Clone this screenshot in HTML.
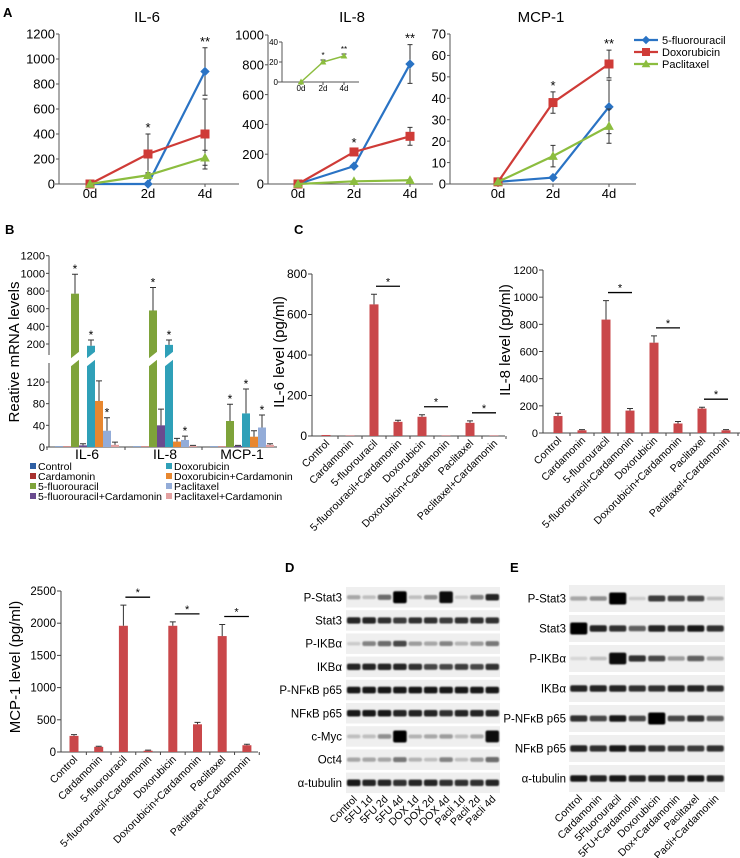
<!DOCTYPE html>
<html><head><meta charset="utf-8">
<style>
html,body{margin:0;padding:0;background:#fff;}
svg{display:block;font-family:"Liberation Sans",Arial,sans-serif;}
</style></head>
<body>
<svg id="fig" width="740" height="858" viewBox="0 0 740 858" xmlns="http://www.w3.org/2000/svg">
<defs><filter id="blur" x="-20%" y="-50%" width="140%" height="200%"><feGaussianBlur stdDeviation="0.9"/></filter></defs>
</svg>
<script>
// ---------- Panel A data ----------
const aDays = ['0d','2d','4d'];
const il6Fu = [0,0,900], il6FuErr = [0,0,190];
const il6Dox = [0,240,400], il6DoxErr = [0,160,280];
const il6Pac = [0,70,210], il6PacErr = [0,20,60];
const il6Ticks = [0,200,400,600,800,1000,1200];
const il6Stars = ['', '*', '**'];
const il8Fu = [0,120,805], il8FuErr = [0,10,130];
const il8Dox = [0,215,320], il8DoxErr = [0,20,60];
const il8Pac = [0,18,25], il8PacErr = [0,3,4];
const il8Ticks = [0,200,400,600,800,1000];
const il8Stars = ['', '*', '**'];
const insetPac = [0,20,26], insetPacErr = [0,2,2];
const insetTicks = [0,20,40];
const mcpFu = [1,3,36], mcpFuErr = [0,0.5,12.5];
const mcpDox = [1,38,56], mcpDoxErr = [0,5,6.5];
const mcpPac = [1,13,27], mcpPacErr = [0,5,8];
const mcpTicks = [0,10,20,30,40,50,60,70];
const mcpStars = ['', '*', '**'];
const seriesNames = ['5-fluorouracil','Doxorubicin','Paclitaxel'];
// ---------- Panel B data ----------
const bGroups = ['IL-6','IL-8','MCP-1'];
const bTreat = ['Control','Cardamonin','5-fluorouracil','5-fluorouracil+Cardamonin','Doxorubicin','Doxorubicin+Cardamonin','Paclitaxel','Paclitaxel+Cardamonin'];
const bIL6 = [1,1,770,3,180,85,30,4];
const bIL6Err = [0,0,220,3,65,37,24,5];
const bIL8 = [1,1,580,40,190,10,13,2];
const bIL8Err = [0,0,260,30,55,6,7,1];
const bMCP = [1,1,48,2,62,19,36,4];
const bMCPErr = [0,0,31,1,45,11,23,2];
const bStarIdx = [2,4,6];
const bLowTicks = [0,40,80,120];
const bHighTicks = [200,400,600,800,1000,1200];
// ---------- Panel C data ----------
const cCats = ['Control','Cardamonin','5-fluorouracil','5-fluorouracil+Cardamonin','Doxorubicin','Doxorubicin+Cardamonin','Paclitaxel','Paclitaxel+Cardamonin'];
const cIL6 = [5,2,650,70,95,2,65,2];
const cIL6Err = [0,0,50,8,10,0,10,0];
const cIL6Ticks = [0,200,400,600,800];
const cIL8 = [125,20,835,165,665,70,180,20];
const cIL8Err = [20,5,140,15,50,15,10,5];
const cIL8Ticks = [0,200,400,600,800,1000,1200];
const cMCP = [250,80,1960,20,1960,430,1800,105];
const cMCPErr = [20,10,320,10,60,30,180,15];
const cMCPTicks = [0,500,1000,1500,2000,2500];
const cPairs = [2,4,6];
// ---------- Panel D/E data ----------
const dLanes = ['Control','5FU 1d','5FU 2d','5FU 4d','DOX 1d','DOX 2d','DOX 4d','Pacli 1d','Pacli 2d','Pacli 4d'];
const dRows = ['P-Stat3','Stat3','P-IKB\u03b1','IKB\u03b1','P-NF\u03baB p65','NF\u03baB p65','c-Myc','Oct4','\u03b1-tubulin'];
const dInt = [
 [0.3,0.2,0.55,1.0,0.2,0.4,0.95,0.15,0.45,0.85],
 [0.85,0.85,0.8,0.75,0.8,0.8,0.75,0.8,0.8,0.8],
 [0.15,0.45,0.55,0.7,0.35,0.3,0.45,0.25,0.35,0.5],
 [0.85,0.85,0.85,0.85,0.8,0.7,0.7,0.75,0.7,0.8],
 [0.9,0.9,0.9,0.9,0.9,0.9,0.9,0.9,0.9,0.9],
 [0.9,0.9,0.9,0.85,0.85,0.85,0.8,0.85,0.85,0.85],
 [0.2,0.2,0.4,1.0,0.25,0.3,0.35,0.2,0.3,0.95],
 [0.3,0.3,0.3,0.5,0.25,0.2,0.45,0.2,0.35,0.55],
 [0.9,0.85,0.85,0.8,0.85,0.85,0.8,0.8,0.8,0.85]];
const eLanes = ['Control','Cardamonin','5Fluorouracil','5FU+Cardamonin','Doxorubicin','Dox+Cardamonin','Paclitaxel','Pacli+Cardamonin'];
const eRows = ['P-Stat3','Stat3','P-IKB\u03b1','IKB\u03b1','P-NF\u03baB p65','NF\u03baB p65','\u03b1-tubulin'];
const eInt = [
 [0.3,0.4,1.0,0.15,0.75,0.7,0.7,0.2],
 [1.0,0.85,0.8,0.6,0.85,0.8,0.9,0.8],
 [0.1,0.2,0.95,0.8,0.7,0.35,0.6,0.3],
 [0.85,0.85,0.85,0.8,0.8,0.85,0.85,0.8],
 [0.8,0.7,0.9,0.7,1.0,0.7,0.8,0.6],
 [0.85,0.8,0.9,0.85,0.8,0.75,0.75,0.8],
 [0.9,0.85,0.9,0.85,0.85,0.85,0.9,0.85]];

const svg = document.getElementById('fig');
const NS = 'http://www.w3.org/2000/svg';
function el(tag, attrs, parent){
  const e = document.createElementNS(NS, tag);
  for (const k in attrs) e.setAttribute(k, attrs[k]);
  (parent||svg).appendChild(e);
  return e;
}
function nm(e, n){
  
  
  return e;
}
function txt(x,y,s,size,opts,parent){
  const a = Object.assign({x:x,y:y,'font-size':size,fill:'#000'}, opts||{});
  const t = el('text', a, parent);
  t.textContent = s;
  return t;
}
function grp(n){ const g = el('g', {}); nm(g, n); return g; }

[['A',3,17],['B',5,234],['C',294,234],['D',285,572],['E',510,572]].forEach(p=>{
  const t = txt(p[1],p[2],p[0],13,{'font-weight':'bold'});
  nm(t, 'panel-label-'+p[0].toLowerCase());
});

// ---------- Panel A ----------
const colors = ['#2a73c4','#cf3b37','#8cbd3f'];
function marker(g, kind, x, y, c, s){
  let m;
  if (kind===0) m = el('polygon',{points:`${x},${y-s} ${x+s},${y} ${x},${y+s} ${x-s},${y}`,fill:c,stroke:c},g);
  else if (kind===1) m = el('rect',{x:x-s,y:y-s,width:2*s,height:2*s,fill:c,stroke:c},g);
  else m = el('polygon',{points:`${x},${y-s} ${x+s},${y+s*0.8} ${x-s},${y+s*0.8}`,fill:c,stroke:c},g);
  nm(m, 'data-point');
}
function lineChart(cfg){
  const g = grp(cfg.name);
  const ys = v => cfg.y0 - (v - cfg.ticks[0])/(cfg.ticks[cfg.ticks.length-1]-cfg.ticks[0])*(cfg.y0-cfg.yTop);
  const ax = el('line',{x1:cfg.ax,y1:cfg.yTop,x2:cfg.ax,y2:cfg.y0,stroke:'#555','stroke-width':1},g); nm(ax,'y-axis');
  const xa = el('line',{x1:cfg.ax-4,y1:cfg.y0,x2:cfg.xEnd,y2:cfg.y0,stroke:'#555','stroke-width':1},g); nm(xa,'x-axis');
  cfg.ticks.forEach(t=>{
    const y = ys(t);
    el('line',{x1:cfg.ax-3,y1:y,x2:cfg.ax,y2:y,stroke:'#555'},g);
    nm(txt(cfg.ax-4,y+cfg.fs*0.36,String(t),cfg.fs,{'text-anchor':'end'},g),'y-tick-label');
  });
  cfg.xs.forEach((x,i)=>{
    el('line',{x1:x,y1:cfg.y0,x2:x,y2:cfg.y0+3,stroke:'#555'},g);
    nm(txt(x,cfg.y0+cfg.fs+1,aDays[i],cfg.fs,{'text-anchor':'middle'},g),'x-tick-label');
  });
  cfg.series.forEach((s,k)=>{
    const pts = s.v.map((v,i)=>[cfg.xs[i], ys(v)]);
    const pl = el('polyline',{points:pts.map(p=>p.join(',')).join(' '),fill:'none',stroke:s.c,'stroke-width':cfg.lw},g);
    nm(pl,'line-'+s.n);
    s.v.forEach((v,i)=>{
      if (s.e[i]>0){
        const x=cfg.xs[i], y1=ys(v+s.e[i]), y2=ys(Math.max(v-s.e[i],cfg.ticks[0]));
        const eb = el('path',{d:`M${x},${y1}V${y2}M${x-2.5},${y1}H${x+2.5}M${x-2.5},${y2}H${x+2.5}`,stroke:'#333','stroke-width':1,fill:'none'},g);
        nm(eb,'error-bar');
      }
      marker(g, s.m, cfg.xs[i], ys(v), s.c, cfg.ms);
    });
  });
  if (cfg.stars) cfg.stars.forEach((st,i)=>{
    if (!st) return;
    let top = Math.min(...cfg.series.map(s=>ys(s.v[i]+s.e[i])));
    nm(txt(cfg.xs[i],top-2,st,cfg.fs,{'text-anchor':'middle'},g),'significance-star');
  });
  if (cfg.title) nm(txt(cfg.tx,22,cfg.title,15,{'text-anchor':'middle'},g),'chart-title');
}
lineChart({name:'il6-line-chart',title:'IL-6',tx:147,ax:59,xEnd:239,y0:184,yTop:34,xs:[90,148,205],ticks:il6Ticks,fs:13,lw:2.2,ms:4,stars:il6Stars,
  series:[{n:'5fu',v:il6Fu,e:il6FuErr,c:colors[0],m:0},{n:'dox',v:il6Dox,e:il6DoxErr,c:colors[1],m:1},{n:'pac',v:il6Pac,e:il6PacErr,c:colors[2],m:2}]});
lineChart({name:'il8-line-chart',title:'IL-8',tx:352,ax:268,xEnd:433,y0:184,yTop:35,xs:[298,354,410],ticks:il8Ticks,fs:13,lw:2.2,ms:4,stars:il8Stars,
  series:[{n:'5fu',v:il8Fu,e:il8FuErr,c:colors[0],m:0},{n:'dox',v:il8Dox,e:il8DoxErr,c:colors[1],m:1},{n:'pac',v:il8Pac,e:il8PacErr,c:colors[2],m:2}]});
lineChart({name:'il8-inset-chart',ax:282,xEnd:359,y0:82,yTop:42,xs:[301,323,344],ticks:insetTicks,fs:8,lw:1.5,ms:2.5,stars:['','*','**'],
  series:[{n:'pac',v:insetPac,e:insetPacErr,c:colors[2],m:2}]});
lineChart({name:'mcp1-line-chart',title:'MCP-1',tx:541,ax:450,xEnd:636,y0:184,yTop:34,xs:[498,553,609],ticks:mcpTicks,fs:13,lw:2.2,ms:4,stars:mcpStars,
  series:[{n:'5fu',v:mcpFu,e:mcpFuErr,c:colors[0],m:0},{n:'dox',v:mcpDox,e:mcpDoxErr,c:colors[1],m:1},{n:'pac',v:mcpPac,e:mcpPacErr,c:colors[2],m:2}]});
{
  const g = grp('legend-a');
  seriesNames.forEach((s,i)=>{
    const y = 40+i*12;
    const l = el('line',{x1:634,y1:y,x2:658,y2:y,stroke:colors[i],'stroke-width':2.2},g); nm(l,'legend-line');
    marker(g,i,646,y,colors[i],3.5);
    nm(txt(662,y+4,s,11,{},g),'legend-entry');
  });
}

// ---------- Panel B ----------
const bColors = ['#2e5fa3','#a8312f','#7ea33a','#6a4b8f','#2fa0b8','#e8872f','#93acd8','#e3a0a0'];
{
  const g = grp('mrna-bar-chart');
  const AX=49, Y0=447, LOWS=0.5417, brkTop=355, brkBot=363;
  const yLow = v => Y0 - v*LOWS;
  const yHigh = v => 344 - (v-200)*0.0883;
  const yv = v => v<=140 ? yLow(v) : yHigh(v);
  nm(el('line',{x1:AX,y1:brkBot,x2:AX,y2:Y0,stroke:'#444'},g),'y-axis-lower');
  nm(el('line',{x1:AX,y1:yHigh(1200),x2:AX,y2:brkTop,stroke:'#444'},g),'y-axis-upper');
  nm(el('line',{x1:AX,y1:Y0,x2:277,y2:Y0,stroke:'#444'},g),'x-axis');
  bLowTicks.forEach(t=>{ const y=yLow(t); el('line',{x1:AX-3,y1:y,x2:AX,y2:y,stroke:'#444'},g); nm(txt(AX-4,y+4,String(t),11,{'text-anchor':'end'},g),'y-tick-label'); });
  bHighTicks.forEach(t=>{ const y=yHigh(t); el('line',{x1:AX-3,y1:y,x2:AX,y2:y,stroke:'#444'},g); nm(txt(AX-4,y+4,String(t),11,{'text-anchor':'end'},g),'y-tick-label'); });
  const yl = txt(0,0,'Reative mRNA levels',15,{'text-anchor':'middle',transform:'translate(19,352) rotate(-90)'},g); nm(yl,'y-axis-title');
  const data=[[bIL6,bIL6Err],[bIL8,bIL8Err],[bMCP,bMCPErr]];
  const starts=[55,133,210], BW=8;
  data.forEach((d,gi)=>{
    d[0].forEach((v,i)=>{
      const x = starts[gi]+i*BW, top=yv(v);
      const r = el('rect',{x:x,y:top,width:BW,height:Y0-top,fill:bColors[i]},g); nm(r,'bar-'+bGroups[gi].toLowerCase()+'-'+i);
      if (v>140){
        const w = el('polygon',{points:`${x-1},${brkTop+4} ${x+BW+1},${brkTop-4} ${x+BW+1},${brkBot-4} ${x-1},${brkBot+4}`,fill:'#fff'},g); nm(w,'axis-break');
      }
      if (d[1][i]>0){
        const ye = yv(v+d[1][i]);
        nm(el('path',{d:`M${x+BW/2},${top}V${ye}M${x+1},${ye}H${x+BW-1}`,stroke:'#333',fill:'none'},g),'error-bar');
        if (bStarIdx.includes(i)) nm(txt(x+BW/2,ye-1,'*',12,{'text-anchor':'middle'},g),'significance-star');
      }
    });
    el('line',{x1:starts[gi]-8,y1:Y0,x2:starts[gi]-8,y2:Y0+3,stroke:'#444'},g);
    nm(txt(starts[gi]+32,Y0+12,bGroups[gi],14,{'text-anchor':'middle'},g),'x-group-label');
  });
  bTreat.forEach((t,i)=>{
    const cx = i<4? 30:166, cy = 470+(i%4)*10;
    nm(el('rect',{x:cx,y:cy-7,width:6,height:6,fill:bColors[i]},g),'legend-swatch');
    nm(txt(cx+8,cy,t,10.5,{},g),'legend-entry');
  });
}

// ---------- Panel C bar charts ----------
function barChart(cfg){
  const g = grp(cfg.name);
  const top = cfg.ticks[cfg.ticks.length-1];
  const ys = v => cfg.y0 - v/top*(cfg.y0-cfg.yTop);
  nm(el('line',{x1:cfg.ax,y1:cfg.yTop,x2:cfg.ax,y2:cfg.y0,stroke:'#444'},g),'y-axis');
  nm(el('line',{x1:cfg.ax,y1:cfg.y0,x2:cfg.xEnd,y2:cfg.y0,stroke:'#444'},g),'x-axis');
  cfg.ticks.forEach(t=>{ const y=ys(t); el('line',{x1:cfg.ax-4,y1:y,x2:cfg.ax,y2:y,stroke:'#444'},g); nm(txt(cfg.ax-5,y+4,String(t),cfg.fs,{'text-anchor':'end'},g),'y-tick-label'); });
  nm(txt(0,0,cfg.ylabel,15,{'text-anchor':'middle',transform:`translate(${cfg.ylx},${cfg.yly}) rotate(-90)`},g),'y-axis-title');
  const cx = i => cfg.x0 + i*cfg.step;
  cfg.vals.forEach((v,i)=>{
    const x=cx(i), y=ys(v);
    nm(el('rect',{x:x-4.5,y:y,width:9,height:cfg.y0-y,fill:'#c9474a'},g),'bar-'+cCats[i].toLowerCase().replace(/[^a-z0-9]+/g,'-'));
    if (cfg.errs[i]>0){ const ye=ys(v+cfg.errs[i]); nm(el('path',{d:`M${x},${y}V${ye}M${x-3},${ye}H${x+3}`,stroke:'#333',fill:'none'},g),'error-bar'); }
    el('line',{x1:x+cfg.step/2,y1:cfg.y0,x2:x+cfg.step/2,y2:cfg.y0+3,stroke:'#444'},g);
    nm(txt(0,0,cCats[i],cfg.lfs,{'text-anchor':'end',transform:`translate(${x+4},${cfg.y0+8}) rotate(-45)`},g),'x-tick-label');
  });
  cPairs.forEach(p=>{
    const t = Math.min(ys(cfg.vals[p]+cfg.errs[p]), ys(cfg.vals[p+1]+cfg.errs[p+1]));
    const y = t-8;
    nm(el('line',{x1:cx(p)+2,y1:y,x2:cx(p+1)+2,y2:y,stroke:'#000','stroke-width':1.3},g),'significance-line');
    nm(txt((cx(p)+cx(p+1))/2+2,y-1,'*',11,{'text-anchor':'middle'},g),'significance-star');
  });
}
barChart({name:'il6-elisa-chart',ax:312,xEnd:505,y0:436,yTop:274,ticks:cIL6Ticks,vals:cIL6,errs:cIL6Err,x0:326,step:24,fs:12,lfs:10.5,ylabel:'IL-6 level (pg/ml)',ylx:284,yly:352});
barChart({name:'il8-elisa-chart',ax:543,xEnd:740,y0:433,yTop:270,ticks:cIL8Ticks,vals:cIL8,errs:cIL8Err,x0:558,step:24,fs:11,lfs:10.5,ylabel:'IL-8 level (pg/ml)',ylx:510,yly:340});
barChart({name:'mcp1-elisa-chart',ax:61,xEnd:258,y0:752,yTop:591,ticks:cMCPTicks,vals:cMCP,errs:cMCPErr,x0:74,step:24.7,fs:11.5,lfs:10.5,ylabel:'MCP-1 level (pg/ml)',ylx:20,yly:667});

// ---------- Western blots ----------
function blot(cfg){
  const g = grp(cfg.name);
  cfg.rows.forEach((r,ri)=>{
    const top = cfg.top + ri*cfg.pitch;
    nm(el('rect',{x:cfg.x0,y:top,width:cfg.x1-cfg.x0,height:cfg.h,fill:'#efefef'},g),'blot-strip');
    nm(txt(cfg.lx,top+cfg.h/2+4,r,11.5,{'text-anchor':'end'},g),'blot-row-label');
    cfg.ints[ri].forEach((v,li)=>{
      const cx = cfg.x0 + cfg.lw*(li+0.5);
      const bh = 3 + v*4 + (v>=0.95?5:0);
      const b = el('rect',{x:cx-cfg.lw*0.44,y:top+cfg.h/2-bh/2,width:cfg.lw*0.88,height:bh,rx:2,fill:'#000','fill-opacity':v,filter:'url(#blur)'},g);
      nm(b,'band');
    });
  });
  const ly = cfg.top + cfg.rows.length*cfg.pitch + 4;
  cfg.lanes.forEach((l,li)=>{
    const cx = cfg.x0 + cfg.lw*(li+0.5);
    nm(txt(0,0,l,10.5,{'text-anchor':'end',transform:`translate(${cx+4},${ly}) rotate(-45)`},g),'lane-label');
  });
}
blot({name:'blot-d',rows:dRows,ints:dInt,lanes:dLanes,x0:346,x1:500,top:587,pitch:23.2,h:20.5,lx:342,lw:15.4});
blot({name:'blot-e',rows:eRows,ints:eInt,lanes:eLanes,x0:569,x1:725,top:585,pitch:30,h:27,lx:566,lw:19.5});
</script>
</body></html>
